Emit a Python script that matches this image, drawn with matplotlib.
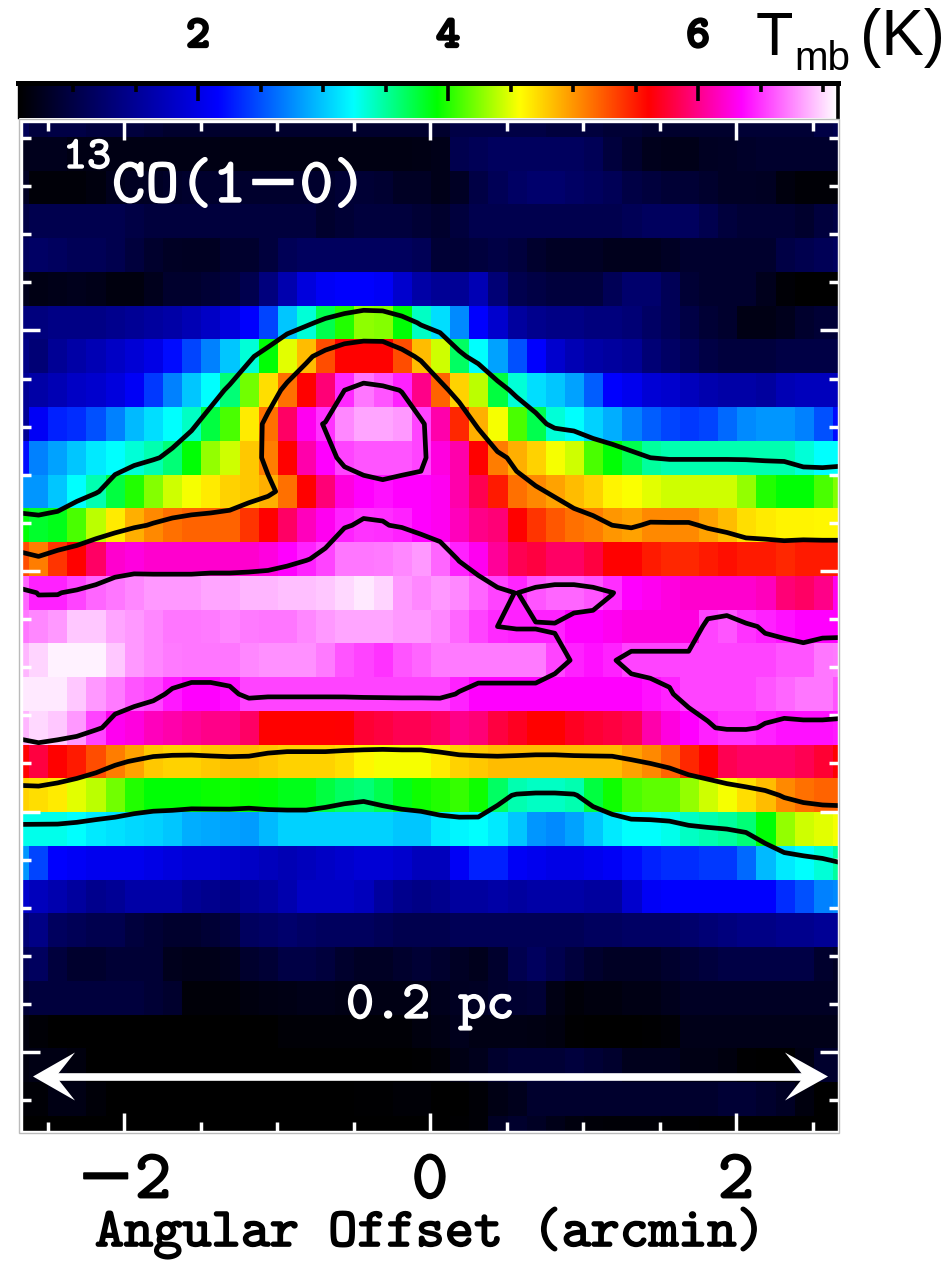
import numpy as np
import matplotlib
matplotlib.use("Agg")
import matplotlib.pyplot as plt
import matplotlib.patheffects as pe
from matplotlib.colors import LinearSegmentedColormap
from matplotlib.patches import Polygon, Rectangle
from matplotlib.ticker import FixedLocator

# ---------- data: brightness temperature (K), one list per velocity channel ----------
row_00 = [1.10,.95,1.0,1.0,.95,.95,.95,.90,.85,.85,.85,.85,.85,.85,.85,.85,.85,.85,.85,.85,.85,.85,.85,1.0,1.0,1.0,1.0,1.0,.95,.95,.95,.90,.90,.85,.85,.85,.85,.85,.90,.90,.90,.90,1.0,1.05]
row_01 = [.75,.75,.75,.70,.70,.70,.70,.70,.70,.70,.70,.68,.68,.68,.68,.68,.68,.68,.68,.68,.68,.70,.72,1.05,1.10,1.15,1.15,1.15,1.15,1.15,1.10,.95,.85,.75,.72,.72,.78,.80,.82,.85,.85,.85,.85,.85]
row_02 = [.80,.62,.62,.62,.65,.75,.78,.80,.82,.85,.85,.85,.85,.85,.85,.85,.85,.90,.90,.88,.80,.80,.72,.80,1.00,1.10,1.20,1.25,1.25,1.20,1.15,1.10,1.00,.95,.90,.90,.85,.80,.80,.78,.65,.60,.60,.60]
row_03 = [1.00,1.05,1.05,1.05,1.05,1.05,1.00,.95,.95,.95,.95,.95,.95,.95,.95,.95,.85,.90,.95,.95,.95,.90,.85,.95,1.05,1.05,1.05,1.05,1.05,1.05,1.05,1.05,1.10,1.15,1.15,1.15,1.05,.95,.90,.90,.90,.85,.95,1.00]
row_04 = [1.15,1.20,1.15,1.10,1.10,1.05,.95,.85,.80,.78,.78,.85,.85,.95,1.10,1.15,1.15,1.15,1.15,1.15,1.15,1.10,.90,.90,.95,1.00,.95,.85,.80,.80,.80,.75,.75,.75,.80,.85,.85,.85,.85,.85,1.00,1.05,1.10,1.15]
row_05 = [.75,.70,.72,.75,.72,.65,.65,.75,.85,.85,.90,.95,1.05,1.35,1.65,1.95,2.10,2.15,2.15,2.10,1.85,1.60,1.50,1.50,1.70,1.30,1.05,1.00,.95,.95,.95,1.10,1.25,1.25,1.10,.90,.85,.85,.85,.75,.60,.56,.56,.56]
row_06 = [1.35,1.35,1.40,1.40,1.40,1.45,1.50,1.55,1.60,1.70,1.80,1.95,2.15,2.45,3.00,3.35,3.70,4.00,4.28,4.25,3.90,3.40,3.10,2.75,2.15,1.85,1.55,1.45,1.40,1.40,1.35,1.35,1.30,1.20,1.10,1.00,.90,.85,.70,.70,.75,.85,.90,.90]
row_07 = [1.40,1.30,1.50,1.60,1.70,1.80,1.90,2.00,2.20,2.45,2.70,3.00,3.35,3.90,4.50,4.85,5.30,5.60,5.60,5.60,5.30,4.85,4.45,3.65,3.25,2.85,2.50,2.15,1.85,1.70,1.60,1.55,1.50,1.30,1.20,1.10,1.00,.95,.95,.95,1.00,1.00,1.00,1.00]
row_08 = [1.50,1.60,1.70,1.80,1.85,1.95,2.10,2.40,2.70,3.00,3.25,3.60,4.20,4.70,5.15,5.60,5.95,6.47,6.70,6.60,6.45,6.00,5.20,4.75,4.40,3.75,3.35,3.10,3.00,2.85,2.55,2.15,2.05,1.90,1.85,1.75,1.65,1.60,1.60,1.55,1.70,1.75,1.75,1.75]
row_09 = [1.50,2.10,2.30,2.35,2.50,2.70,2.95,3.10,3.25,3.40,3.75,4.10,4.65,5.15,5.90,6.30,6.50,6.75,6.85,6.85,6.80,6.55,6.10,5.45,4.90,4.55,4.10,3.70,3.35,3.25,3.05,2.90,2.70,2.55,2.45,2.40,2.45,2.60,2.75,2.80,2.80,2.70,2.50,2.20]
row_10 = [2.20,2.70,2.85,3.00,3.15,3.25,3.35,3.45,3.60,3.90,4.30,4.45,4.80,5.10,5.60,6.10,6.35,6.55,6.60,6.60,6.60,6.55,6.25,6.10,5.60,5.10,4.90,4.75,4.55,4.45,4.10,3.90,3.70,3.50,3.45,3.45,3.45,3.45,3.45,3.45,3.45,3.35,3.25,3.25]
row_11 = [2.80,2.80,3.00,3.25,3.45,3.75,4.00,4.25,4.45,4.55,4.65,4.75,4.80,4.90,5.15,5.60,5.95,6.25,6.35,6.40,6.35,6.35,6.30,6.10,5.85,5.50,5.15,5.05,4.95,4.85,4.75,4.62,4.57,4.50,4.45,4.45,4.45,4.45,4.30,4.00,3.90,3.90,4.10,4.25]
row_12 = [3.90,3.80,3.85,4.10,4.40,4.65,4.90,5.05,5.15,5.20,5.20,5.20,5.40,5.60,5.90,6.15,6.30,6.45,6.50,6.48,6.45,6.35,6.30,6.15,6.00,5.95,5.60,5.40,5.25,5.15,5.10,5.00,4.95,5.05,5.05,5.05,4.95,4.85,4.70,4.65,4.62,4.62,4.60,4.60]
row_13 = [5.30,5.10,5.40,5.60,5.90,6.20,6.25,6.20,6.20,6.20,6.20,6.20,6.20,6.25,6.35,6.45,6.55,6.70,6.70,6.72,6.75,6.80,6.65,6.45,6.30,6.05,5.85,5.80,5.90,5.90,5.80,5.60,5.60,5.50,5.45,5.45,5.50,5.55,5.50,5.50,5.45,5.50,5.50,5.50]
row_14 = [6.65,6.45,6.45,6.55,6.65,6.70,6.75,6.80,6.80,6.80,6.85,6.85,6.90,6.90,6.92,6.92,6.95,7.00,7.05,6.98,6.80,6.75,6.80,6.75,6.65,6.55,6.46,6.60,6.65,6.65,6.60,6.48,6.35,6.30,6.25,6.20,6.20,6.20,6.20,6.15,5.95,5.90,6.00,6.30]
row_15 = [6.70,6.75,6.80,6.95,6.95,6.85,6.80,6.75,6.70,6.70,6.72,6.75,6.72,6.70,6.70,6.75,6.80,6.85,6.85,6.85,6.80,6.80,6.75,6.65,6.55,6.47,6.45,6.45,6.45,6.35,6.35,6.30,6.25,6.25,6.25,6.25,6.55,6.60,6.50,6.45,6.40,6.35,6.35,6.35]
row_16 = [6.90,6.98,7.08,7.08,7.08,6.95,6.80,6.75,6.72,6.70,6.70,6.70,6.75,6.78,6.78,6.78,6.72,6.60,6.55,6.50,6.60,6.65,6.72,6.72,6.72,6.72,6.72,6.72,6.55,6.45,6.40,6.45,6.55,6.55,6.55,6.55,6.55,6.55,6.55,6.55,6.60,6.60,6.70,6.72]
row_17 = [7.05,7.05,7.05,6.95,6.80,6.72,6.60,6.55,6.42,6.35,6.35,6.40,6.55,6.55,6.55,6.55,6.55,6.55,6.55,6.55,6.55,6.55,6.55,6.45,6.35,6.35,6.35,6.35,6.35,6.35,6.35,6.35,6.35,6.40,6.45,6.55,6.55,6.55,6.55,6.60,6.65,6.70,6.70,6.60]
row_18 = [6.90,7.00,6.95,6.80,6.55,6.30,6.25,6.15,6.10,6.05,6.00,6.00,5.90,5.60,5.60,5.60,5.60,5.62,5.75,5.80,5.85,5.85,5.90,6.00,5.95,5.80,5.70,5.60,5.60,5.70,5.75,5.80,5.85,6.10,6.25,6.35,6.45,6.50,6.50,6.45,6.40,6.40,6.40,6.42]
row_19 = [5.60,5.80,5.60,5.50,5.30,5.10,4.95,4.80,4.75,4.75,4.80,4.83,4.83,4.80,4.75,4.75,4.75,4.70,4.60,4.55,4.55,4.55,4.65,4.75,4.80,4.85,4.85,4.85,4.85,4.85,4.85,4.85,4.95,5.05,5.20,5.45,5.60,5.85,5.90,5.90,5.90,5.85,5.75,5.60]
row_20 = [4.75,4.70,4.65,4.50,4.40,4.20,4.00,3.90,3.90,3.90,3.93,3.95,3.92,3.90,3.85,3.85,3.75,3.65,3.60,3.70,3.85,3.95,4.00,4.05,3.95,3.65,3.45,3.40,3.40,3.45,3.75,3.95,4.10,4.15,4.15,4.30,4.45,4.55,4.70,4.85,5.05,5.15,5.20,5.20]
row_21 = [3.30,3.30,3.30,3.25,3.15,3.12,3.08,3.05,3.00,2.90,2.87,2.85,2.82,2.95,3.05,3.05,3.05,3.05,3.05,3.05,3.00,3.00,3.15,3.20,3.25,3.15,3.00,2.80,2.75,2.85,3.00,3.15,3.25,3.25,3.30,3.40,3.45,3.50,3.60,3.90,4.30,4.45,4.50,4.55]
row_22 = [2.80,2.45,2.15,2.10,2.05,2.05,2.05,2.00,1.95,1.90,1.90,1.85,1.80,1.75,1.70,1.75,1.80,1.85,1.90,1.90,1.85,1.75,1.75,2.10,2.30,2.30,2.10,2.05,2.00,2.00,2.05,2.10,2.20,2.30,2.35,2.35,2.40,2.40,2.60,2.95,3.15,3.25,3.35,3.50]
row_23 = [1.85,1.75,1.65,1.55,1.45,1.50,1.60,1.60,1.60,1.50,1.45,1.40,1.50,1.55,1.65,1.80,1.80,1.80,1.75,1.55,1.45,1.40,1.45,1.55,1.55,1.60,1.55,1.60,1.60,1.60,1.55,1.55,1.85,2.10,2.15,2.15,2.15,2.15,2.15,2.15,2.35,2.50,2.70,2.75]
row_24 = [1.30,1.40,1.15,1.10,1.05,1.05,.95,.90,.85,.85,.90,.95,1.15,1.20,1.25,1.20,1.15,1.15,1.15,1.10,1.05,1.05,1.05,1.10,1.10,1.10,1.10,1.10,1.10,1.10,1.15,1.15,1.20,1.20,1.20,1.25,1.30,1.35,1.40,1.40,1.45,1.45,1.50,1.50]
row_25 = [1.10,1.15,.95,.85,.85,.90,.90,.90,.75,.72,.72,.75,.85,.90,1.00,1.00,.95,.85,.80,.80,.85,.90,.85,.80,.75,.85,1.05,1.15,1.05,.95,.85,.80,.80,.80,.85,.90,.95,1.00,1.00,1.00,1.00,1.00,.85,.80]
row_26 = [.90,.95,.95,.95,.95,.95,.95,.90,.85,.62,.62,.62,.65,.68,.70,.72,.72,.70,.70,.70,.70,.70,.75,.78,.80,.85,.88,.90,.70,.62,.65,.65,.70,.70,.75,.80,.80,.80,.80,.80,.80,.80,.80,.80]
row_27 = [.65,.60,.56,.56,.56,.56,.56,.56,.56,.56,.56,.56,.56,.56,.60,.60,.60,.60,.60,.60,.60,.65,.70,.75,.70,.70,.70,.68,.65,.58,.56,.56,.56,.58,.60,.72,.72,.72,.72,.72,.72,.72,.72,.72]
row_28 = [.65,.70,.70,.65,.56,.56,.56,.56,.56,.56,.56,.56,.56,.56,.56,.56,.56,.56,.56,.56,.56,.58,.62,.70,.75,.85,.90,.90,.90,.95,.90,.85,.75,.75,.75,.70,.70,.65,.58,.56,.56,.68,.85,.85]
row_29 = [.60,.60,.70,.70,.62,.56,.56,.56,.56,.56,.56,.56,.56,.56,.56,.56,.56,.56,.58,.58,.60,.60,.56,.56,.60,.70,.75,.85,.85,.85,.85,.85,.85,.85,.85,.85,.85,.90,.90,.85,.80,.65,.56,.56]
row_30 = [.56,.56,.56,.56,.56,.56,.56,.56,.56,.56,.56,.56,.56,.56,.56,.56,.56,.56,.56,.56,.56,.56,.56,.58,.60,.80,.85,.80,.72,.65,.62,.60,.60,.60,.58,.58,.56,.56,.56,.56,.56,.56,.56,.56]

contour_levels = [3.5, 5.0, 6.47]
t_min, t_max = 0.56, 7.12
cbar_major = [2, 4, 6]
cbar_minor = [1.0, 1.5, 2.5, 3.0, 3.5, 4.5, 5.0, 5.5, 6.5, 7.0]
x_major = [-2, 0, 2]
x_minor = [-2.5, -1.5, -1.0, -0.5, 0.5, 1.0, 1.5, 2.5]
x_ticklabels = ["\u22122", "0", "2"]
y_major = [-10, -5, 0, 5]
y_minor = [v for v in range(-11, 10) if v % 5 != 0]

T = np.array([globals()[f"row_{i:02d}"] for i in range(31)])

# ---------- layout helpers (pixel values of the 944x1261 canvas) ----------
W, H = 944, 1261
fig = plt.figure(figsize=(W / 100, H / 100), dpi=100, facecolor="white")
def box(x0, y0, x1, y1):
    return [x0 / W, 1 - y1 / H, (x1 - x0) / W, (y1 - y0) / H]
def fx(x): return x / W
def fy(y): return 1 - y / H

TT = "cmtt10"
FALL = [TT, "DejaVu Serif"]

stops = [(0.0, "#000000"), (0.243, "#0000ff"), (0.326, "#0080ff"), (0.409, "#00ffff"),
         (0.511, "#00ff00"), (0.612, "#ffff00"), (0.691, "#ff8000"), (0.77, "#ff0000"),
         (0.826, "#ff0080"), (0.883, "#ff00ff"), (1.0, "#ffffff")]
cmap = LinearSegmentedColormap.from_list("tmb", stops, N=512)

# ---------- main map ----------
ax = fig.add_axes(box(22, 122, 838, 1131))
X_PER_PX = 1 / 153.0
Y_PER_PX = 1 / 48.1
to_x = lambda p: (p - 430) * X_PER_PX
to_y = lambda p: (571 - p) * Y_PER_PX
ny, nx = T.shape
cw, ch = 19.12, 33.76
x_edge0, y_edge0 = 29 - cw, 137 - ch
extent = [to_x(x_edge0), to_x(x_edge0 + nx * cw), to_y(y_edge0 + ny * ch), to_y(y_edge0)]
ax.imshow(T, cmap=cmap, vmin=t_min, vmax=t_max, extent=extent, aspect="auto",
          interpolation="nearest", origin="upper")
xc = to_x(x_edge0 + (np.arange(nx) + 0.5) * cw)
yc = to_y(y_edge0 + (np.arange(ny) + 0.5) * ch)
cs = ax.contour(xc, yc, T, levels=contour_levels, colors="black", linewidths=3.4)
cs.set_joinstyle("round")
ax.set_xlim(to_x(22), to_x(838))
ax.set_ylim(to_y(1131), to_y(122))

ax.xaxis.set_major_locator(FixedLocator(x_major))
ax.xaxis.set_minor_locator(FixedLocator(x_minor))
ax.yaxis.set_major_locator(FixedLocator(y_major))
ax.yaxis.set_minor_locator(FixedLocator(y_minor))
ax.set_xticklabels(x_ticklabels, family=FALL, fontsize=50,
                   path_effects=[pe.withStroke(linewidth=1.2, foreground="black")])
ax.set_yticklabels([])
ax.tick_params(which="major", direction="in", length=13, width=2.5, color="white",
               top=True, right=True, bottom=True, left=True, pad=17)
ax.tick_params(which="minor", direction="in", length=6.5, width=2.5, color="white",
               top=True, right=True, bottom=True, left=True)
for s in ax.spines.values():
    s.set_color("white")
    s.set_linewidth(1.0)
fig.add_artist(Rectangle((fx(18.5), fy(1133)), (838.5 - 18.5) / W, (1133 - 119) / H,
                         fill=False, edgecolor="#bbbbbb", linewidth=1.0,
                         transform=fig.transFigure))

fig.text(fx(430), fy(1246), "Angular Offset (arcmin)", family=FALL, fontsize=40, ha="center",
         va="baseline", color="black",
         path_effects=[pe.withStroke(linewidth=1.2, foreground="black")])

# ---------- annotations ----------
white_fx = [pe.withStroke(linewidth=1.0, foreground="white")]
fig.text(fx(63), fy(168), "13", family=FALL, fontsize=33, color="white", path_effects=white_fx)
fig.text(fx(112), fy(202), "CO(1\u22120)", family=FALL, fontsize=46, color="white", path_effects=white_fx)
fig.text(fx(346), fy(1018), "0.2 pc", family=FALL, fontsize=38.5, color="white", path_effects=white_fx)

fig.add_artist(plt.Line2D([fx(50), fx(812)], [fy(1076.5), fy(1076.5)], color="white", lw=5.5,
                          transform=fig.transFigure, solid_capstyle="butt"))
for tip, back, notch in [(33, 75, 56), (828, 785, 804)]:
    pts = [(fx(tip), fy(1076.5)), (fx(back), fy(1052.5)), (fx(notch), fy(1076.5)), (fx(back), fy(1100.5))]
    fig.add_artist(Polygon(pts, closed=True, facecolor="white", edgecolor="none",
                           transform=fig.transFigure))

# ---------- colour bar ----------
cax = fig.add_axes(box(18, 83, 838, 118))
cax.imshow(np.linspace(t_min, t_max, 512)[None, :], cmap=cmap, vmin=t_min, vmax=t_max,
           extent=[t_min, t_max, 0, 1], aspect="auto")
cax.set_yticks([])
cax.xaxis.set_major_locator(FixedLocator(cbar_major))
cax.xaxis.set_minor_locator(FixedLocator(cbar_minor))
cax.xaxis.tick_top()
cax.tick_params(which="major", direction="in", length=13, width=2.6, color="black", pad=19)
cax.tick_params(which="minor", direction="in", length=6.5, width=2.6, color="black", top=True, bottom=False)
cax.set_xticklabels([str(v) for v in cbar_major], family=FALL, fontsize=32,
                    path_effects=[pe.withStroke(linewidth=2.2, foreground="black")])
for name, s in cax.spines.items():
    s.set_color("black")
    s.set_linewidth(2.6)
cax.spines["top"].set_linewidth(3.6)
cax.spines["bottom"].set_visible(False)
cax.spines["left"].set_linewidth(1.0)

SANS = "Liberation Sans"
fig.text(fx(756), fy(55), "T", family=SANS, fontsize=44, color="black")
fig.text(fx(794), fy(70), "mb", family=SANS, fontsize=29, color="black")
fig.text(fx(860), fy(55), "(K)", family=SANS, fontsize=46, color="black")

fig.savefig("out.png", dpi=100)
